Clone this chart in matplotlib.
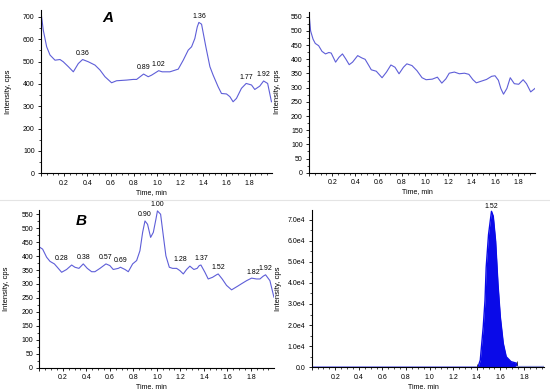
import numpy as np
import matplotlib
matplotlib.use("Agg")
import matplotlib.pyplot as plt
from matplotlib.ticker import MultipleLocator, FuncFormatter
from matplotlib.lines import Line2D

plt.rcParams['font.family'] = ['Liberation Sans', 'DejaVu Sans']

# panel A (top left) trace
a_time = [0.0, 0.02, 0.049, 0.078, 0.121, 0.164, 0.192, 0.236, 0.279, 0.322, 0.359,
          0.408, 0.466, 0.509, 0.552, 0.609, 0.652, 0.738, 0.796, 0.825, 0.885, 0.925,
          0.954, 1.015, 1.045, 1.112, 1.184, 1.227, 1.270, 1.299, 1.327, 1.348, 1.362,
          1.385, 1.422, 1.457, 1.485, 1.528, 1.557, 1.600, 1.629, 1.657, 1.686, 1.729,
          1.770, 1.816, 1.844, 1.887, 1.920, 1.955, 1.988]
a_int = [722, 640, 566, 529, 506, 509, 499, 477, 454, 491, 509,
         499, 484, 462, 432, 405, 414, 417, 420, 420, 444, 432,
         439, 459, 454, 454, 466, 506, 551, 566, 603, 655, 675,
         667, 566, 477, 439, 387, 357, 355, 343, 320, 335, 380,
         402, 395, 375, 390, 413, 402, 320]
a_labels = ['0.36', '0.89', '1.02', '1.36', '1.77', '1.92']
a_label_t = [0.359, 0.885, 1.015, 1.362, 1.770, 1.920]

# top right trace
c_time = [0.0, 0.014, 0.035, 0.054, 0.083, 0.112, 0.142, 0.171, 0.191, 0.229, 0.258,
          0.288, 0.317, 0.346, 0.375, 0.419, 0.454, 0.483, 0.515, 0.536, 0.579, 0.629,
          0.667, 0.705, 0.740, 0.775, 0.813, 0.842, 0.886, 0.929, 0.973, 1.008, 1.061,
          1.105, 1.143, 1.178, 1.207, 1.251, 1.294, 1.338, 1.376, 1.411, 1.440, 1.484,
          1.528, 1.572, 1.601, 1.630, 1.651, 1.674, 1.703, 1.732, 1.767, 1.805, 1.843,
          1.872, 1.908, 1.944]
c_int = [564, 500, 471, 456, 448, 428, 419, 424, 422, 390, 407,
         419, 401, 381, 390, 413, 405, 400, 378, 363, 358, 335,
         355, 380, 372, 349, 372, 384, 378, 360, 335, 328, 330,
         337, 316, 331, 351, 355, 349, 351, 347, 328, 317, 323,
         329, 340, 342, 326, 297, 277, 297, 335, 314, 312, 328,
         314, 285, 297]

# panel B (bottom left) trace
b_time = [0.006, 0.028, 0.062, 0.091, 0.128, 0.153, 0.19, 0.232, 0.275, 0.303, 0.337,
          0.374, 0.408, 0.445, 0.473, 0.516, 0.567, 0.6, 0.629, 0.672, 0.69, 0.729,
          0.757, 0.794, 0.828, 0.856, 0.879, 0.899, 0.921, 0.947, 0.97, 0.992, 1.005,
          1.032, 1.055, 1.077, 1.106, 1.134, 1.168, 1.196, 1.225, 1.253, 1.281, 1.315,
          1.343, 1.361, 1.375, 1.409, 1.437, 1.474, 1.508, 1.522, 1.556, 1.593, 1.636,
          1.687, 1.721, 1.764, 1.806, 1.848, 1.877, 1.905, 1.925, 1.962, 1.996]
b_int = [431, 425, 396, 381, 372, 360, 342, 352, 368, 360, 356,
         372, 356, 344, 344, 356, 372, 366, 352, 356, 360, 352,
         344, 372, 384, 419, 485, 526, 514, 467, 485, 532, 562,
         550, 473, 401, 360, 356, 356, 348, 336, 352, 364, 352,
         356, 366, 368, 342, 318, 324, 333, 336, 318, 295, 279,
         292, 301, 312, 321, 318, 318, 328, 333, 312, 253]
b_labels = ['0.28', '0.38', '0.57', '0.69', '0.90', '1.00', '1.28', '1.37', '1.52', '1.82', '1.92']
b_label_t = [0.275, 0.374, 0.567, 0.69, 0.899, 1.005, 1.281, 1.375, 1.522, 1.82, 1.925]
b_label_dx = [-7, 0, 0, 0, 0, 0, -7, 0, 0, 0, 0]

# bottom right XIC peak
d_time = [0.0, 1.41, 1.43, 1.44, 1.455, 1.47, 1.48, 1.50, 1.525, 1.54, 1.56, 1.58,
          1.60, 1.625, 1.65, 1.69, 1.74, 1.745]
d_int = [0, 0, 3400, 9700, 19100, 31600, 47300, 62900, 73900, 71600, 59800, 39500,
         23800, 11300, 5000, 2700, 1900, 300]
d_tail_time = [1.745, 1.97]
d_tail_int = [300, 300]

line_col = '#5e5ed8'
fs = 5

fig = plt.figure(figsize=(5.5, 3.89), dpi=100)


def style(ax, xmax, ymax, ystep, yminor):
    for s in ['top', 'right']:
        ax.spines[s].set_visible(False)
    for s in ['left', 'bottom']:
        ax.spines[s].set_linewidth(0.8)
    ax.set_xlim(0, xmax)
    ax.set_ylim(0, ymax)
    ax.xaxis.set_major_locator(MultipleLocator(0.2))
    ax.xaxis.set_minor_locator(MultipleLocator(0.05))
    ax.yaxis.set_major_locator(MultipleLocator(ystep))
    ax.yaxis.set_minor_locator(MultipleLocator(yminor))
    ax.xaxis.set_major_formatter(FuncFormatter(lambda v, p: '' if v < 0.01 else f'{v:.1f}'))
    ax.tick_params(which='major', length=2.5, width=0.6, labelsize=fs, pad=2)
    ax.tick_params(which='minor', length=1.2, width=0.5)
    ax.set_xlabel('Time, min', fontsize=fs)
    ax.set_ylabel('Intensity, cps', fontsize=fs + 0.5)
    ax.xaxis.set_label_coords(0.48, -0.098)
    ax.yaxis.set_label_coords(-0.126, 0.5)


# A
ax1 = fig.add_axes([0.0745, 0.5545, 0.4195, 0.4195])
ax1.plot(a_time, a_int, color=line_col, lw=0.8)
style(ax1, 1.99, 730, 100, 50)
for lab, t in zip(a_labels, a_label_t):
    ax1.annotate(lab, (t, np.interp(t, a_time, a_int)), xytext=(0, 2),
                 textcoords='offset points', ha='center', va='bottom', fontsize=fs)
ax1.text(0.29, 0.95, 'A', transform=ax1.transAxes, fontsize=11, fontweight='bold',
         fontstyle='italic', ha='center', va='center')

# top right
ax2 = fig.add_axes([0.5618, 0.556, 0.4109, 0.414])
ax2.plot(c_time, c_int, color=line_col, lw=0.8)
style(ax2, 1.945, 568, 50, 25)

# B
ax3 = fig.add_axes([0.0715, 0.0548, 0.4265, 0.4052])
ax3.plot(b_time, b_int, color=line_col, lw=0.8)
style(ax3, 1.996, 565, 50, 25)
for lab, t, dx in zip(b_labels, b_label_t, b_label_dx):
    ax3.annotate(lab, (t, np.interp(t, b_time, b_int)), xytext=(dx, 2),
                 textcoords='offset points', ha='center', va='bottom', fontsize=fs)
ax3.text(0.18, 0.93, 'B', transform=ax3.transAxes, fontsize=11, fontweight='bold',
         fontstyle='italic', ha='center', va='center')

# bottom right
ax4 = fig.add_axes([0.5667, 0.0558, 0.4223, 0.4042])
ax4.fill_between(d_time, d_int, color='#0a0ae8', lw=0)
ax4.plot(d_time, d_int, color='#0a0ae8', lw=1.0)
ax4.plot(d_tail_time, d_tail_int, color='#8f96d8', lw=1.6)
ax4.plot([1.40, 1.74], [600, 1900], ls='none', marker='|', ms=3, mew=0.6, color='#333333')
style(ax4, 1.97, 74500, 10000, 5000)
ax4.yaxis.set_major_formatter(FuncFormatter(lambda v, p: '0.0' if v == 0 else f'{v / 1e4:.1f}e4'))
ax4.annotate('1.52', (1.525, max(d_int)), xytext=(0, 1), textcoords='offset points',
             ha='center', va='bottom', fontsize=fs)

fig.add_artist(Line2D([0, 1], [0.486, 0.486], color='#e4e4e4', lw=0.8))

fig.savefig('out.png', dpi=100)
